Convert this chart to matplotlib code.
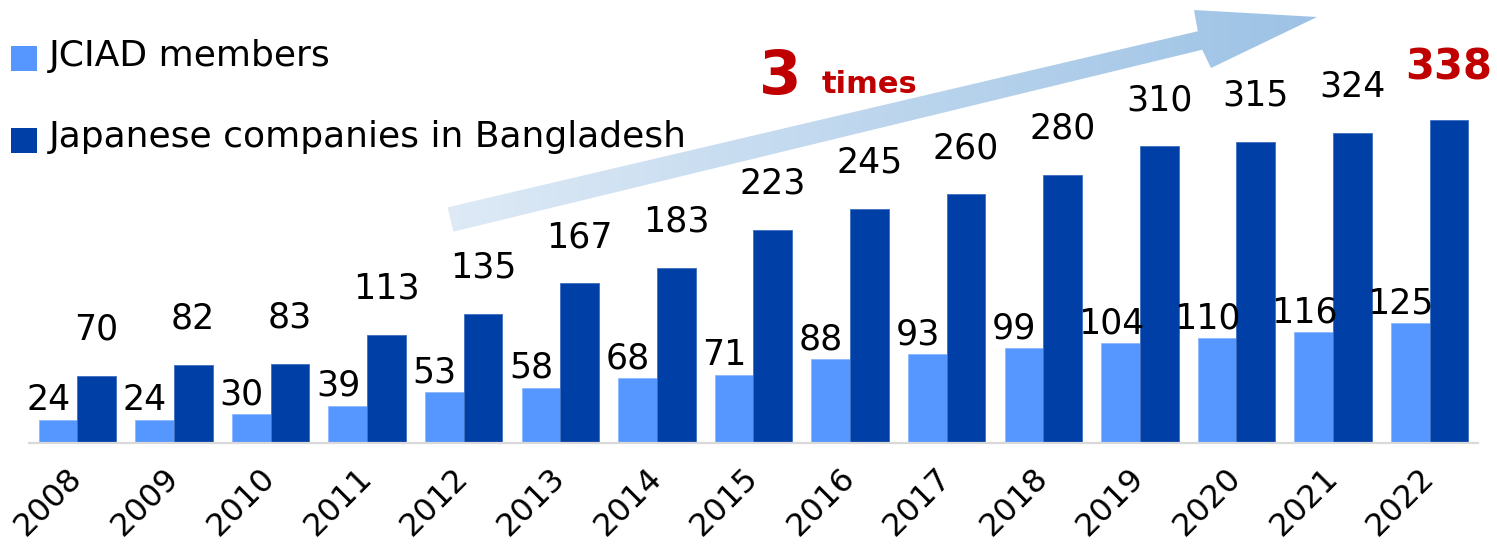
import numpy as np
import matplotlib
matplotlib.use("Agg")
import matplotlib.pyplot as plt
from matplotlib.patches import Polygon, Rectangle
from matplotlib.colors import LinearSegmentedColormap

years = ["2008", "2009", "2010", "2011", "2012", "2013", "2014", "2015",
         "2016", "2017", "2018", "2019", "2020", "2021", "2022"]
jciad = [24, 24, 30, 39, 53, 58, 68, 71, 88, 93, 99, 104, 110, 116, 125]
japanese = [70, 82, 83, 113, 135, 167, 183, 223, 245, 260, 280, 310, 315, 324, 338]
series_names = ["JCIAD members", "Japanese companies in Bangladesh"]

LIGHT = "#5596FF"
DARK = "#003FA5"
RED = "#C00000"
plt.rcParams['font.family'] = ['DejaVu Sans']

W, H = 1497, 547
fig = plt.figure(figsize=(W / 100, H / 100), dpi=100)

# overlay axes in pixel coordinates (for decorations)
ov = fig.add_axes([0, 0, 1, 1], zorder=0)
ov.set_xlim(0, W)
ov.set_ylim(H, 0)
ov.axis("off")

# main axes
ax = fig.add_axes([29 / W, (H - 443) / H, 1449 / W, 443 / H], zorder=1)
ax.patch.set_alpha(0)
x = np.arange(len(years))
bw = 0.4
b1 = ax.bar(x - bw / 2, jciad, bw, color=LIGHT, edgecolor="#8DB8FF", linewidth=0.6, zorder=2)
b2 = ax.bar(x + bw / 2, japanese, bw, color=DARK, edgecolor="#3F6FC0", linewidth=0.6, zorder=2)
ax.set_xlim(-0.5, len(years) - 0.5)
ax.set_ylim(0, 463)
for s in ["top", "left", "right"]:
    ax.spines[s].set_visible(False)
ax.spines["bottom"].set_color("#D9D9D9")
ax.spines["bottom"].set_linewidth(1.6)
ax.set_yticks([])
ax.set_xticks(x)
ax.set_xticklabels(years, rotation=45, ha="right", va="center",
                   rotation_mode="anchor", fontsize=23)
ax.tick_params(axis="x", length=0, pad=22)

for i, v in enumerate(jciad):
    ax.annotate(str(v), (x[i] - bw / 2, v), xytext=(-7, 7), textcoords="offset points",
                ha="center", va="baseline", fontsize=25, color="black", zorder=3)
for i, v in enumerate(japanese):
    last = i == len(japanese) - 1
    ax.annotate(str(v), (x[i] + bw / 2, v), xytext=(0, 29 if last else 26),
                textcoords="offset points", ha="center", va="baseline",
                fontsize=30 if last else 25,
                fontweight="bold" if last else "normal",
                color=RED if last else "black", zorder=3)

# legend (manual)
for k, (name, col) in enumerate(zip(series_names, [LIGHT, DARK])):
    y0 = 46 + 82 * k
    ov.add_patch(Rectangle((11, y0), 26, 25, facecolor=col, edgecolor="none"))
    ov.text(49, 66 + 81 * k, name, fontsize=26, ha="left", va="baseline", color="black")

# gradient arrow
tail_c = np.array([450.5, 219.5])
base_c = np.array([1200.0, 40.5])
d = base_c - tail_c
u = d / np.linalg.norm(d)
n = np.array([-u[1], u[0]])
hw_t, hw_b = 12.5, 9.5
pts = [tail_c - n * hw_t, base_c - n * hw_b, (1194, 10), (1317, 17), (1211, 68),
       base_c + n * hw_b, tail_c + n * hw_t]
poly = Polygon(pts, closed=True, facecolor="none", edgecolor="none")
ov.add_patch(poly)
cmap = LinearSegmentedColormap.from_list("arr", ["#DEEAF6", "#9CC2E5"])
grad = np.linspace(0, 1, 256).reshape(1, -1)
im = ov.imshow(grad, cmap=cmap, extent=(445, 1320, 240, 5), aspect="auto",
               interpolation="bilinear", zorder=1)
im.set_clip_path(poly)
ov.set_xlim(0, W)
ov.set_ylim(H, 0)

# "3 times"
ov.text(759, 94, "3", fontsize=44, fontweight="bold", color=RED, ha="left", va="baseline")
ov.text(822, 93, "times", fontsize=22, fontweight="bold", color=RED, ha="left", va="baseline")

fig.savefig("out.png", dpi=100)
